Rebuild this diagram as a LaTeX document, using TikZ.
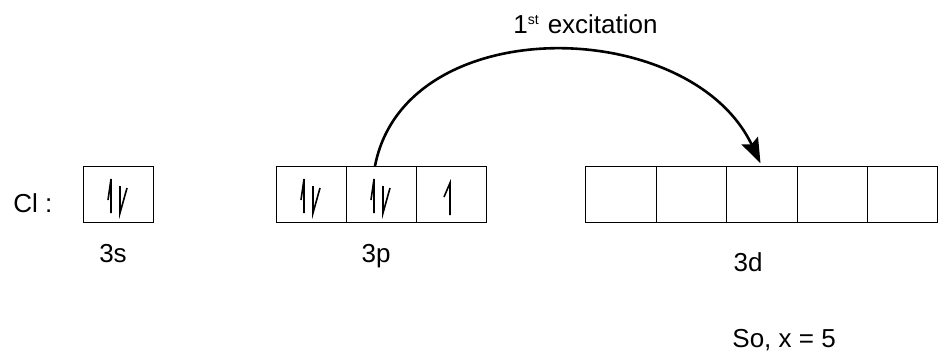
\documentclass[tikz,border=0pt]{standalone}
\usepackage{fontspec}
\setmainfont{Liberation Sans}
\usetikzlibrary{positioning, arrows.meta}

\tikzset{
  orbital/.style={draw, line width=0.5pt, minimum width=35pt, minimum height=28pt, inner sep=0pt, outer sep=0pt},
  dorbital/.style={orbital, minimum width=35.2pt},
  spin/.style={line width=0.8pt},
  label/.style={font=\fontsize{13}{15}\selectfont, inner sep=0pt, anchor=base},
  spinup/.pic={\draw[spin] (-7,19) -- (-7,-15) -- (-10,6);},
  spindown/.pic={\draw[spin] (2,-8) -- (2,19) -- (9,-6);},
  single/.pic={\draw[spin] (-1,21) -- (-1,-11) -- (-7,3);}
}

\begin{document}
\begin{tikzpicture}[x=0.5pt, y=-0.5pt]

    \useasboundingbox (0,0) rectangle (940,354);

    % Orbital boxes
    \node[orbital] (s1) at (118,194) {};
    \node[orbital] (p1) at (311,194) {};
    \node[orbital, right=0pt of p1] (p2) {};
    \node[orbital, right=0pt of p2] (p3) {};
    \node[dorbital] (d1) at (621,194) {};
    \node[dorbital, right=0pt of d1] (d2) {};
    \node[dorbital, right=0pt of d2] (d3) {};
    \node[dorbital, right=0pt of d3] (d4) {};
    \node[dorbital, right=0pt of d4] (d5) {};

    % Electrons
    \foreach \b in {s1, p1, p2} {
      \pic at (\b) {spinup};
      \pic at (\b) {spindown};
    }
    \pic at (p3) {single};

    % Labels
    \node[label, anchor=base west] (cl) at (13,212) {Cl :};
    \node[label] (ls) at (113,262) {3s};
    \node[label] (lp) at (376,262) {3p};
    \node[label] (ld) at (748,271) {3d};
    \node[label, anchor=base west] (res) at (732,347) {So, x = 5};
    \node[label, anchor=base west] (exc) at (513,33) {1\textsuperscript{\fontsize{7}{8}\selectfont st}\hspace{4pt}excitation};

    % Excitation arrow
    \coordinate (from) at ([xshift=-3pt]p2.north);
    \draw[line width=1.3pt, -{Stealth[length=12.5pt, width=9pt, inset=2pt]}, shorten >=1.5pt]
      (from) .. controls (405,10) and (690,15) .. (d3.north);

\end{tikzpicture}
\end{document}
